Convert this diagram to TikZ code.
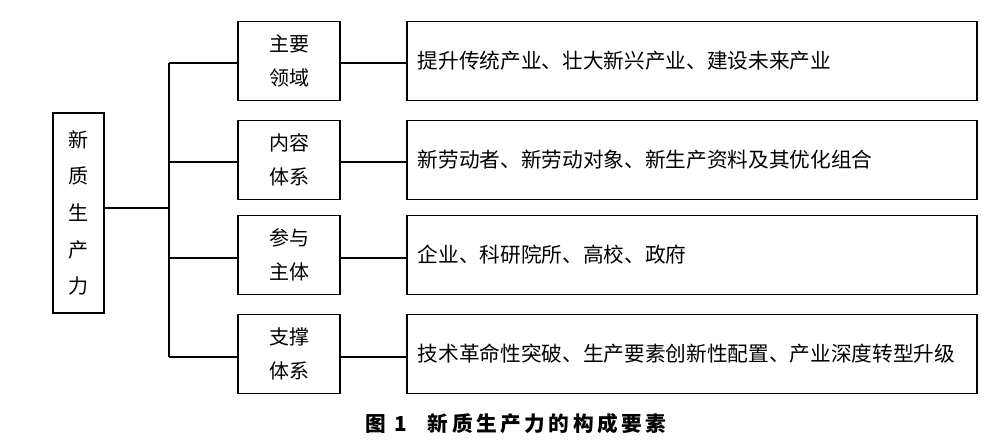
\documentclass[tikz,border=0pt]{standalone}
\usepackage{fontspec}
\setmainfont{Noto Sans CJK SC}
\begin{document}
\begin{tikzpicture}[x=0.75pt,y=-0.75pt,
  box/.style={draw,line width=1.1pt,inner sep=0pt},
  conn/.style={line width=1.1pt},
  midbox/.style={box,minimum width=76.5pt,minimum height=59pt,align=center,font=\fontsize{15}{25.5}\selectfont},
  rightbox/.style={box,minimum width=427.5pt,minimum height=59pt,text width=411.5pt,inner xsep=8pt,align=left,font=\fontsize{15.5}{18}\selectfont}]
\useasboundingbox[fill=white] (0,0) rectangle (1000,444);
\node[box,minimum width=38.25pt,minimum height=150pt,align=center,font=\fontsize{15}{27.5}\selectfont] (root) at (78.5,213) {新\\质\\生\\产\\力};
\node[midbox] (m1) at (289,61) {主要\\领域};
\node[midbox] (m2) at (289,160) {内容\\体系};
\node[midbox] (m3) at (289,255) {参与\\主体};
\node[midbox] (m4) at (289,354) {支撑\\体系};
\node[rightbox] (r1) at (692,61) {提升传统产业、壮大新兴产业、建设未来产业};
\node[rightbox] (r2) at (692,160) {新劳动者、新劳动对象、新生产资料及其优化组合};
\node[rightbox] (r3) at (692,255) {企业、科研院所、高校、政府};
\node[rightbox] (r4) at (692,354) {技术革命性突破、生产要素创新性配置、产业深度转型升级};
\coordinate (j) at (169,208);
\coordinate (t1) at (169,63);
\coordinate (t2) at (169,162);
\coordinate (t3) at (169,258);
\coordinate (t4) at (169,357);
\draw[conn] (root.east |- j) -- (j);
\draw[conn] (t1) -- (t4);
\foreach \i in {1,2,3,4}{
  \draw[conn] (t\i) -- (t\i -| m\i.west);
  \draw[conn] (t\i -| m\i.east) -- (t\i -| r\i.west);
}
\node[font=\fontsize{15.5}{18}\selectfont\bfseries\addfontfeatures{LetterSpace=17}] (cap) at (516,424) {图 1\quad 新质生产力的构成要素};
\end{tikzpicture}
\end{document}
